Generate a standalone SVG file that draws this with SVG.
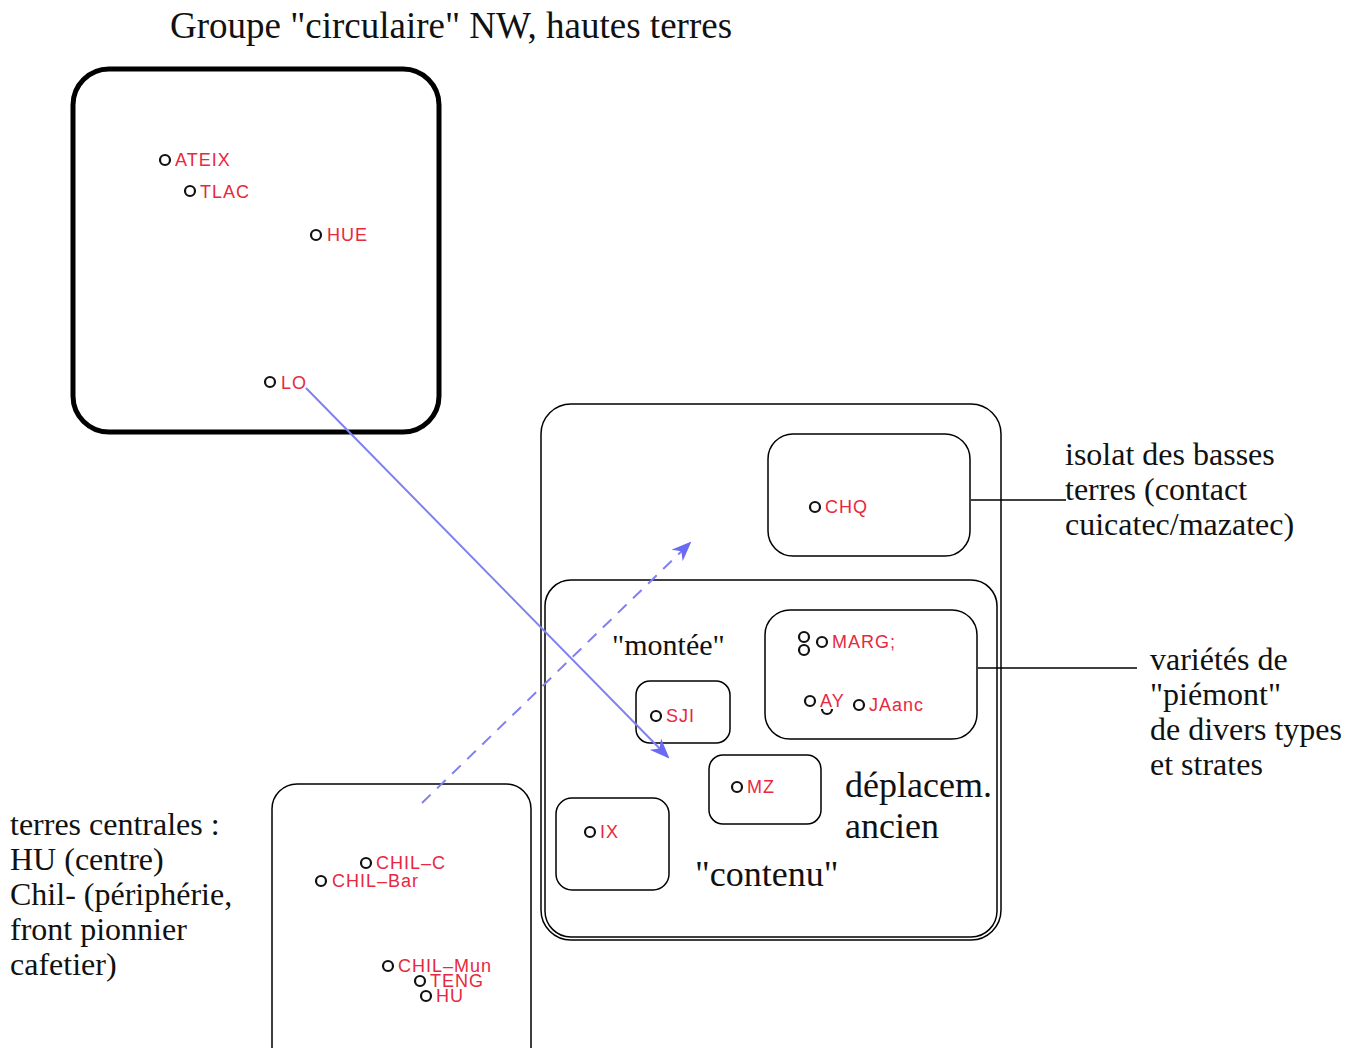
<svg xmlns="http://www.w3.org/2000/svg" width="1345" height="1048" viewBox="0 0 1345 1048">
<style>
.box{fill:none;stroke:#000;stroke-width:1.5}
.pt{fill:none;stroke:#111;stroke-width:2.2}
.lbl{font-family:"Liberation Sans",Arial,sans-serif;font-size:18px;letter-spacing:1px;fill:#e8283e}
.ser{font-family:"Liberation Serif","Times New Roman",serif;font-size:32px;fill:#111}
.arr{stroke:#8080f0;stroke-width:2;fill:none}
</style>
<defs>
<marker id="ah" viewBox="0 0 10 10" refX="9" refY="5" markerWidth="20" markerHeight="20" markerUnits="userSpaceOnUse" orient="auto">
<path d="M0,1 L10,5 L0,9 L3,5 z" fill="#6a6af5"/>
</marker>
</defs>
<rect width="1345" height="1048" fill="#fff"/>
<text x="170" y="38" class="ser" style="font-size:37px">Groupe "circulaire" NW, hautes terres</text>

<g id="nw">
<rect x="73" y="69" width="366" height="363" rx="36" fill="none" stroke="#000" stroke-width="5"/>
<circle cx="165" cy="160" r="5" class="pt"/><text x="175" y="166" class="lbl">ATEIX</text>
<circle cx="190" cy="191" r="5" class="pt"/><text x="200" y="198" class="lbl">TLAC</text>
<circle cx="316" cy="235" r="5" class="pt"/><text x="327" y="241" class="lbl">HUE</text>
<circle cx="270" cy="382" r="5" class="pt"/><text x="281" y="389" class="lbl">LO</text>
</g>

<g id="right-outer">
<rect x="541" y="404" width="460" height="536" rx="30" class="box"/>
</g>
<g id="chq">
<rect x="768" y="434" width="202" height="122" rx="25" class="box"/>
<circle cx="815" cy="507" r="5" class="pt"/><text x="825" y="513" class="lbl">CHQ</text>
</g>
<g id="piemont">
<rect x="545" y="580" width="452" height="357" rx="26" class="box"/>
<text x="612" y="655" class="ser" style="font-size:30px">"montée"</text>
<text x="845" y="797" class="ser" style="font-size:36px">déplacem.</text>
<text x="845" y="838" class="ser" style="font-size:36px">ancien</text>
<text x="695" y="886" class="ser" style="font-size:36px">"contenu"</text>
</g>
<g id="marg">
<rect x="765" y="610" width="212" height="129" rx="25" class="box"/>
<circle cx="804" cy="637" r="5" class="pt"/>
<circle cx="804" cy="650" r="5" class="pt"/>
<circle cx="822" cy="642" r="5" class="pt"/>
<text x="832" y="648" class="lbl">MARG;</text>
<circle cx="810" cy="701" r="5" class="pt"/><text x="820" y="707" class="lbl">AY</text>
<path d="M822,709 A5,5 0 0 0 832,709" class="pt"/>
<circle cx="859" cy="705" r="5" class="pt"/><text x="869" y="711" class="lbl">JAanc</text>
</g>
<g id="sji">
<rect x="636" y="681" width="94" height="62" rx="14" class="box"/>
<circle cx="656" cy="716" r="5" class="pt"/><text x="666" y="722" class="lbl">SJI</text>
</g>
<g id="mz">
<rect x="709" y="755" width="112" height="69" rx="14" class="box"/>
<circle cx="737" cy="787" r="5" class="pt"/><text x="747" y="793" class="lbl">MZ</text>
</g>
<g id="ix">
<rect x="556" y="798" width="113" height="92" rx="16" class="box"/>
<circle cx="590" cy="832" r="5" class="pt"/><text x="600" y="838" class="lbl">IX</text>
</g>

<g id="central">
<rect x="272" y="784" width="259" height="290" rx="25" class="box"/>
<circle cx="366" cy="863" r="5" class="pt"/><text x="376" y="869" class="lbl">CHIL–C</text>
<circle cx="321" cy="881" r="5" class="pt"/><text x="332" y="887" class="lbl">CHIL–Bar</text>
<circle cx="388" cy="966" r="5" class="pt"/><text x="398" y="972" class="lbl">CHIL–Mun</text>
<circle cx="420" cy="981" r="5" class="pt"/><text x="430" y="987" class="lbl">TENG</text>
<circle cx="426" cy="996" r="5" class="pt"/><text x="436" y="1002" class="lbl">HU</text>
</g>

<g id="left-text" class="ser">
<text x="10" y="835">terres centrales :</text>
<text x="10" y="870">HU (centre)</text>
<text x="10" y="905">Chil- (périphérie,</text>
<text x="10" y="940">front pionnier</text>
<text x="10" y="975">cafetier)</text>
</g>
<g id="isolat-text" class="ser">
<text x="1065" y="465">isolat des basses</text>
<text x="1065" y="500">terres (contact</text>
<text x="1065" y="535">cuicatec/mazatec)</text>
</g>
<g id="piemont-text" class="ser">
<text x="1150" y="670">variétés de</text>
<text x="1150" y="705">"piémont"</text>
<text x="1150" y="740">de divers types</text>
<text x="1150" y="775">et strates</text>
</g>

<g id="connectors">
<line x1="971" y1="500" x2="1066" y2="500" stroke="#000" stroke-width="1.3"/>
<line x1="978" y1="668" x2="1137" y2="668" stroke="#000" stroke-width="1.3"/>
<line x1="306" y1="388" x2="668" y2="757" class="arr" marker-end="url(#ah)"/>
<line x1="422" y1="803" x2="690" y2="543" class="arr" stroke-dasharray="12,9" marker-end="url(#ah)"/>
</g>
</svg>
